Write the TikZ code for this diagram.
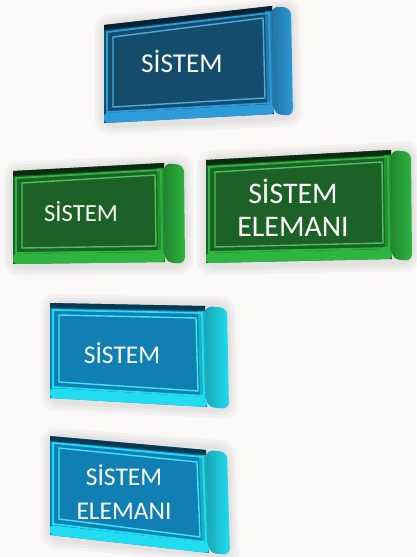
\documentclass[tikz,border=0pt]{standalone}
\usepackage{fontspec}
\setmainfont{Carlito}
\usetikzlibrary{calc}
\definecolor{bgwhite}{RGB}{252,250,248}
\definecolor{navyface}{RGB}{20,76,108}
\definecolor{navyside}{RGB}{45,155,218}
\definecolor{greenface}{RGB}{28,98,38}
\definecolor{greenside}{RGB}{45,181,64}
\definecolor{tealface}{RGB}{16,128,180}
\definecolor{tealside}{RGB}{32,221,242}

% one bevelled 3d box: #1 prefix of its corners, #2 face colour, #3 side colour, #4 depth
\newcommand{\sysbox}[4]{%
  \foreach \g in {3,6,9}
    \fill[black, opacity=0.03, rounded corners=8] ($(#1tl)+(-\g,-\g)$) -- ($(#1tr)+(#4+\g,-\g)$) -- ($(#1br)+(#4+\g,\g+3)$) -- ($(#1bl)+(-\g,\g+3)$) -- cycle;
  \shade[left color=#3!75!black, middle color=#3!55!white, right color=#3, rounded corners=4] (#1tr) -- ($(#1tr)+(#4,2)$) -- ($(#1br)+(#4,2)$) -- (#1br) -- cycle;
  \fill[#2] (#1tl) -- (#1tr) -- (#1br) -- (#1bl) -- cycle;
  \fill[#2!45!black] (#1tl) -- (#1tr) -- ($(#1tr)+(0,5)$) -- ($(#1tl)+(0,5)$) -- cycle;
  \fill[#3!80!black] ($(#1tr)+(-7,5)$) -- ($(#1tr)+(0,5)$) -- ($(#1br)+(0,-9)$) -- ($(#1br)+(-7,-9)$) -- cycle;
  \fill[#3, rounded corners=2] ($(#1bl)+(0,-10)$) -- ($(#1br)+(0,-10)$) -- (#1br) -- (#1bl) -- cycle;
  \draw[#3, line width=1pt] ($(#1tl)+(3,7)$) -- ($(#1tr)+(-3,7)$) -- ($(#1br)+(-3,-11)$) -- ($(#1bl)+(3,-11)$) -- cycle;
  \draw[#3!85!white, line width=0.8pt] ($(#1tl)+(9,12)$) -- ($(#1tr)+(-9,12)$) -- ($(#1br)+(-9,-16)$) -- ($(#1bl)+(9,-16)$) -- cycle;
}

\begin{document}
\begin{tikzpicture}[x=0.02cm, y=-0.02cm,
    boxlabel/.style={text=white, align=center, inner sep=0pt}]
    \fill[bgwhite] (0,0) rectangle (416,557);
    \useasboundingbox (0,0) rectangle (416,557);

    % corners of the boxes
    \coordinate (btl) at (104,25);  \coordinate (btr) at (272,6);
    \coordinate (bbr) at (274,114); \coordinate (bbl) at (104,123);
    \coordinate (gtl) at (13,171);  \coordinate (gtr) at (164,163);
    \coordinate (gbr) at (165,262); \coordinate (gbl) at (13,264);
    \coordinate (htl) at (206,160); \coordinate (htr) at (391,150);
    \coordinate (hbr) at (392,259); \coordinate (hbl) at (206,263);
    \coordinate (ttl) at (50,303);  \coordinate (ttr) at (205,306);
    \coordinate (tbr) at (207,407); \coordinate (tbl) at (50,398);
    \coordinate (utl) at (50,436);  \coordinate (utr) at (206,450);
    \coordinate (ubr) at (209,553); \coordinate (ubl) at (50,535);

    % boxes
    \sysbox{b}{navyface}{navyside}{19}
    \sysbox{g}{greenface}{greenside}{20}
    \sysbox{h}{greenface}{greenside}{20}
    \sysbox{t}{tealface}{tealside}{22}
    \sysbox{u}{tealface}{tealside}{21}

    % labels
    \node (sys1) [boxlabel, font=\fontsize{15.5}{18}\selectfont] at (182,61) {SİSTEM};
    \node (sys2) [boxlabel, font=\fontsize{14}{17}\selectfont] at (81,212) {SİSTEM};
    \node (elem1) [boxlabel, font=\fontsize{17}{18.5}\selectfont] at (293,208) {SİSTEM\\ELEMANI};
    \node (sys3) [boxlabel, font=\fontsize{14.5}{17}\selectfont] at (122,353) {SİSTEM};
    \node (elem2) [boxlabel, font=\fontsize{14.5}{19}\selectfont] at (124,492) {SİSTEM\\ELEMANI};
\end{tikzpicture}
\end{document}
